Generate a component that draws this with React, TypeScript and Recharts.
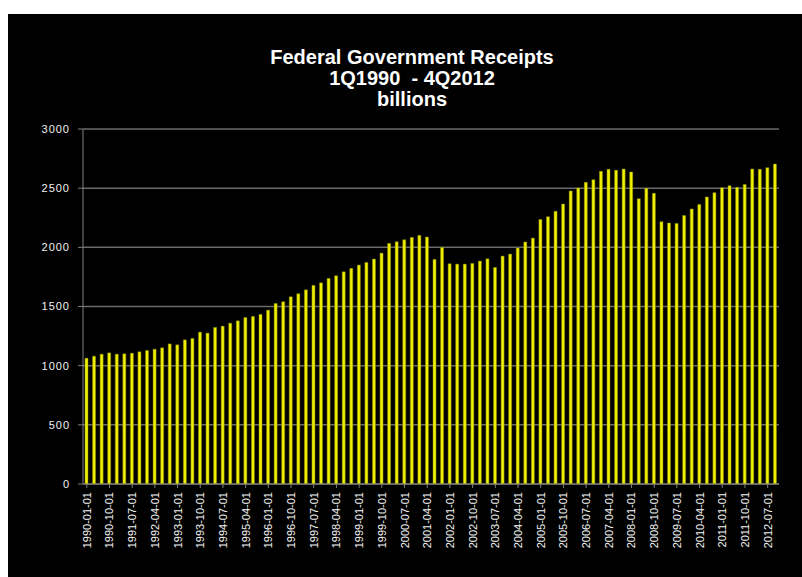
import { BarChart, Bar, XAxis, YAxis, CartesianGrid } from 'recharts';

// quarterly receipts, billions of dollars, 1Q1990 - 4Q2012
const years = [
  1990, 1991, 1992, 1993, 1994, 1995, 1996, 1997, 1998, 1999, 2000, 2001,
  2002, 2003, 2004, 2005, 2006, 2007, 2008, 2009, 2010, 2011, 2012,
];
const quarterMonths = ['01', '04', '07', '10'];

const receipts = [
  1063, 1080, 1097, 1108, 1097, 1100, 1105, 1117, 1128, 1139, 1151, 1184,
  1176, 1218, 1230, 1283, 1275, 1323, 1334, 1359, 1379, 1407, 1416, 1433,
  1469, 1526, 1540, 1582, 1608, 1641, 1678, 1700, 1737, 1760, 1793, 1822,
  1850, 1872, 1901, 1951, 2033, 2047, 2064, 2084, 2101, 2087, 1898, 1999,
  1861, 1858, 1858, 1864, 1884, 1903, 1830, 1926, 1943, 1994, 2045, 2078,
  2235, 2259, 2304, 2366, 2476, 2501, 2549, 2572, 2642, 2659, 2651, 2662,
  2637, 2411, 2499, 2456, 2217, 2205, 2202, 2270, 2324, 2363, 2425, 2462,
  2504, 2521, 2507, 2532, 2662, 2659, 2673, 2704,
];

const yTicks = [0, 500, 1000, 1500, 2000, 2500, 3000];

const titleLines = ['Federal Government Receipts', '1Q1990  - 4Q2012', 'billions'];

const dates: string[] = [];
years.forEach((y) => quarterMonths.forEach((m) => dates.push(`${y}-${m}-01`)));

const data = receipts.map((value, i) => ({ date: dates[i], value }));

const DateTick = (props: any) => {
  const { x, y, payload } = props;
  return (
    <g transform={`translate(${x},${y})`}>
      <text
        x={0}
        y={0}
        dy={4}
        textAnchor="end"
        transform="rotate(-90)"
        fill="#f2f2f2"
        fontSize={11}
        fontFamily="Liberation Sans, Arial, sans-serif"
      >
        {payload.value}
      </text>
    </g>
  );
};

export default function App() {
  return (
    <div
      style={{
        position: 'fixed',
        left: 8,
        top: 14,
        width: 794,
        height: 563,
        background: '#000',
      }}
    >
      <div
        style={{
          position: 'absolute',
          left: 204,
          top: 33,
          width: 400,
          textAlign: 'center',
          color: '#fff',
          fontFamily: 'Liberation Sans, Arial, sans-serif',
          fontWeight: 'bold',
          fontSize: 20,
          lineHeight: '21px',
          whiteSpace: 'pre',
        }}
      >
        {titleLines.map((t) => (
          <div key={t}>{t}</div>
        ))}
      </div>
      <BarChart
        width={794}
        height={563}
        data={data}
        margin={{ top: 115, right: 23, left: 0, bottom: 0 }}
        style={{ position: 'absolute', left: 0, top: 0 }}
      >
        <CartesianGrid vertical={false} stroke="#6a6a6a" strokeWidth={1.5} />
        <XAxis
          dataKey="date"
          interval={2}
          height={93}
          tick={<DateTick />}
          tickSize={4}
          tickMargin={4}
          stroke="#808080"
        />
        <YAxis
          width={75}
          domain={[0, 3000]}
          ticks={yTicks}
          tickSize={5}
          tickMargin={8}
          stroke="#808080"
          tick={{
            fill: '#f2f2f2',
            fontSize: 11,
            letterSpacing: 1,
            fontFamily: 'Liberation Sans, Arial, sans-serif',
          }}
        />
        <Bar
          dataKey="value"
          fill="#f0f000"
          stroke="#8a8a00"
          strokeWidth={0.5}
          barSize={3}
          isAnimationActive={false}
        />
      </BarChart>
    </div>
  );
}
